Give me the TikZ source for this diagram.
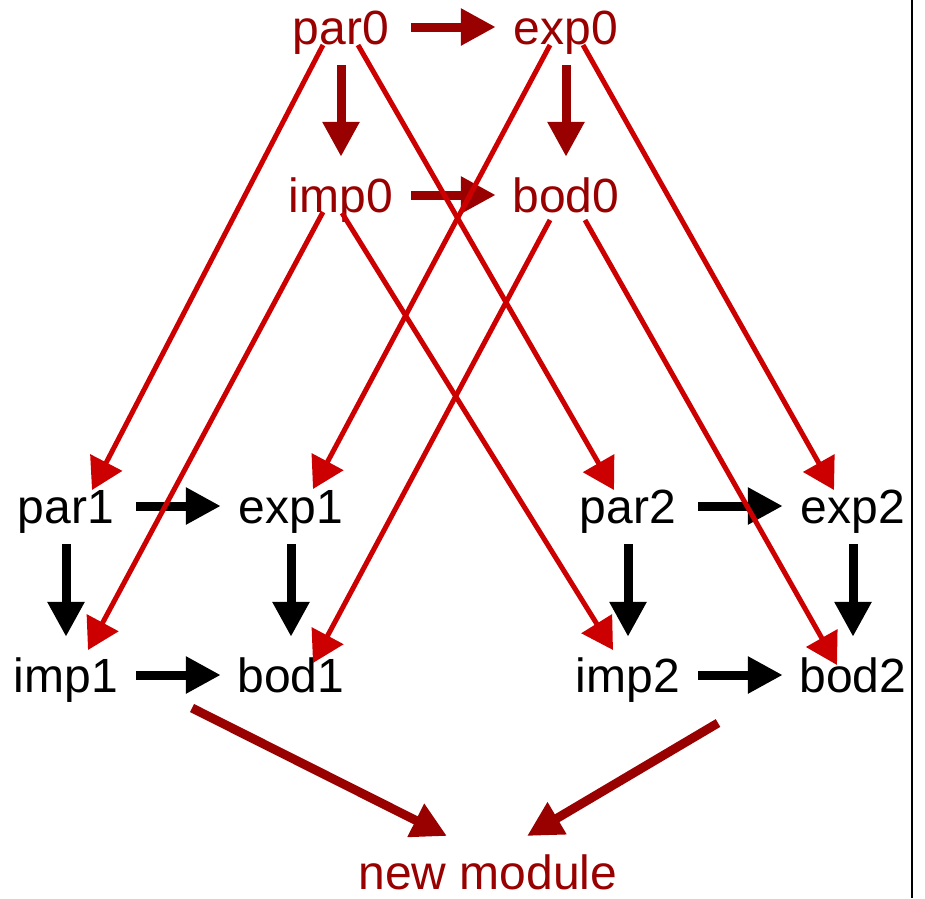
\documentclass[tikz,border=0pt]{standalone}
\usepackage{fontspec}
\setmainfont{Liberation Sans}
\usepackage{xcolor}
\usepackage{tikz}
\usetikzlibrary{arrows.meta}
\definecolor{ModDark}{RGB}{153, 0, 0}
\definecolor{ModRed}{RGB}{204, 0, 0}

\begin{document}
\begin{tikzpicture}[x=1pt, y=-1pt,
    modname/.style={inner sep=0pt, minimum width=140pt, minimum height=76pt,
      text height=34pt, text depth=0pt, font=\fontsize{48}{56}\selectfont},
    bigarrow/.style={line width=9pt, -{Triangle[length=35pt, width=35pt]}},
    link/.style={draw=ModRed, line width=5pt, -{Triangle[length=31pt, width=35pt]}}]
  \useasboundingbox (0,0) rectangle (925,898);

  % original module
  \node[modname, text=ModDark] (par0) at (341,27) {par0};
  \node[modname, text=ModDark] (exp0) at (566,27) {exp0};
  \node[modname, text=ModDark] (imp0) at (341,195) {imp0};
  \node[modname, text=ModDark] (bod0) at (566,195) {bod0};

  % two copies
  \node[modname] (par1) at (66,506) {par1};
  \node[modname] (exp1) at (291,506) {exp1};
  \node[modname] (imp1) at (66,675) {imp1};
  \node[modname] (bod1) at (291,675) {bod1};
  \node[modname] (par2) at (628,506) {par2};
  \node[modname] (exp2) at (853,506) {exp2};
  \node[modname] (imp2) at (628,675) {imp2};
  \node[modname] (bod2) at (853,675) {bod2};

  \node[modname, minimum height=34pt, text=ModDark] (newmod) at (488,872) {new module};

  \draw[bigarrow, ModDark] (par0) -- (exp0);
  \draw[bigarrow, ModDark] (imp0) -- (bod0);
  \draw[bigarrow, ModDark] (par0) -- (imp0);
  \draw[bigarrow, ModDark] (exp0) -- (bod0);

  \foreach \i in {1,2} {
    \draw[bigarrow] (par\i) -- (exp\i);
    \draw[bigarrow] (imp\i) -- (bod\i);
    \draw[bigarrow] (par\i) -- (imp\i);
    \draw[bigarrow] (exp\i) -- (bod\i);
  }

  % copies
  \draw[link] ([xshift=-18pt, yshift=-18pt]par0.center) -- ([xshift=26pt, yshift=16pt]par1.center);
  \draw[link] ([xshift=17pt, yshift=-18pt]par0.center) -- ([xshift=-14pt, yshift=16pt]par2.center);
  \draw[link] ([xshift=-16pt, yshift=-18pt]exp0.center) -- ([xshift=22pt, yshift=17pt]exp1.center);
  \draw[link] ([xshift=17pt, yshift=-18pt]exp0.center) -- ([xshift=-19pt, yshift=16pt]exp2.center);
  \draw[link] ([xshift=-18pt, yshift=-17pt]imp0.center) -- ([xshift=22pt, yshift=25pt]imp1.center);
  \draw[link] ([xshift=1pt, yshift=-18pt]imp0.center) -- ([xshift=-15pt, yshift=25pt]imp2.center);
  \draw[link] ([xshift=-16pt, yshift=-25pt]bod0.center) -- ([xshift=22pt, yshift=12pt]bod1.center);
  \draw[link] ([xshift=19pt, yshift=-25pt]bod0.center) -- ([xshift=-16pt, yshift=10pt]bod2.center);

  \draw[bigarrow, ModDark] ([xshift=-99pt, yshift=-33pt]bod1.center) -- ([xshift=-41pt, yshift=36pt]newmod.center);
  \draw[bigarrow, ModDark] ([xshift=90pt, yshift=-48pt]imp2.center) -- ([xshift=39pt, yshift=36pt]newmod.center);

  \draw[line width=2pt] (912,0) -- (912,898);
\end{tikzpicture}
\end{document}
